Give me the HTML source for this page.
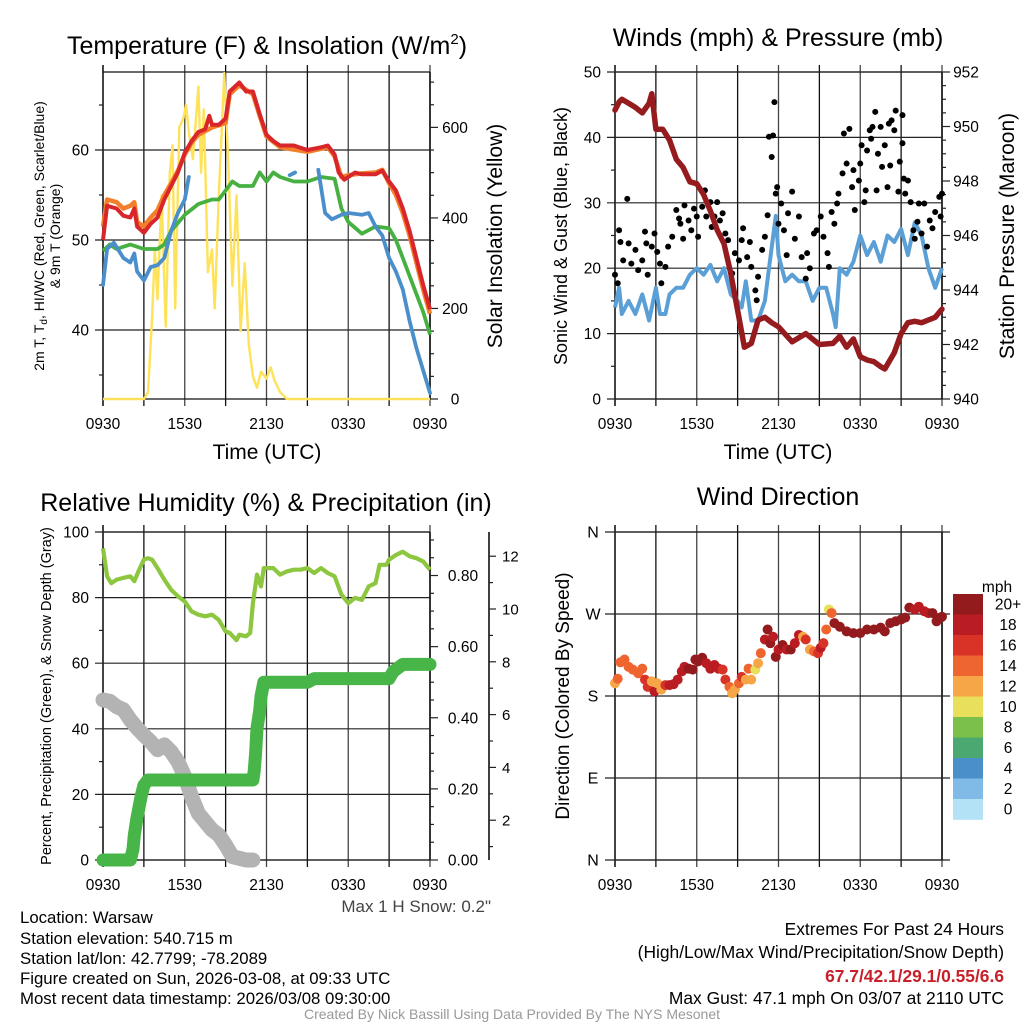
<!DOCTYPE html>
<html><head><meta charset="utf-8"><style>
html,body{margin:0;padding:0;background:#fff;}
svg{display:block;font-family:"Liberation Sans",sans-serif;}
</style></head><body>
<svg id="fig" xmlns="http://www.w3.org/2000/svg" width="1024" height="1024" viewBox="0 0 1024 1024">
<rect width="1024" height="1024" fill="#fff"/>
<g id="p1"></g>
<g id="p2"></g>
<g id="p3"></g>
<g id="p4"></g>
<!-- titles -->
<text x="267" y="54" font-size="25" text-anchor="middle">Temperature (F) &amp; Insolation (W/m<tspan font-size="15" dy="-10">2</tspan><tspan dy="10">)</tspan></text>
<text x="778" y="46" font-size="25" text-anchor="middle">Winds (mph) &amp; Pressure (mb)</text>
<text x="266" y="511" font-size="25" text-anchor="middle">Relative Humidity (%) &amp; Precipitation (in)</text>
<text x="778" y="505" font-size="25" text-anchor="middle">Wind Direction</text>
<!-- axis titles -->
<text x="267" y="459" font-size="21" text-anchor="middle">Time (UTC)</text>
<text x="778" y="459" font-size="21" text-anchor="middle">Time (UTC)</text>
<text transform="translate(44,236) rotate(-90)" font-size="14" text-anchor="middle">2m T, T<tspan font-size="10" dy="3">d</tspan><tspan dy="-3">, HI/WC (Red, Green, Scarlet/Blue)</tspan></text>
<text transform="translate(60,236) rotate(-90)" font-size="14" text-anchor="middle">&amp; 9m T (Orange)</text>
<text transform="translate(502,236) rotate(-90)" font-size="21" text-anchor="middle">Solar Insolation (Yellow)</text>
<text transform="translate(567,236) rotate(-90)" font-size="18" text-anchor="middle">Sonic Wind &amp; Gust (Blue, Black)</text>
<text transform="translate(1014,236) rotate(-90)" font-size="21" text-anchor="middle">Station Pressure (Maroon)</text>
<text transform="translate(51,696) rotate(-90)" font-size="14.5" text-anchor="middle">Percent, Precipitation (Green), &amp; Snow Depth (Gray)</text>
<text transform="translate(569,696) rotate(-90)" font-size="19" text-anchor="middle">Direction (Colored By Speed)</text>
<text x="997" y="592" font-size="15.5" text-anchor="middle">mph</text>
<!-- footer -->
<text x="491" y="912" font-size="17" text-anchor="end" fill="#444">Max 1 H Snow: 0.2"</text>
<g font-size="16.8">
<text x="20" y="923">Location: Warsaw</text>
<text x="20" y="944">Station elevation: 540.715 m</text>
<text x="20" y="964">Station lat/lon: 42.7799; -78.2089</text>
<text x="20" y="984">Figure created on Sun, 2026-03-08, at 09:33 UTC</text>
<text x="20" y="1004">Most recent data timestamp: 2026/03/08 09:30:00</text>
</g>
<g font-size="17.4" text-anchor="end">
<text x="1004" y="935">Extremes For Past 24 Hours</text>
<text x="1004" y="958">(High/Low/Max Wind/Precipitation/Snow Depth)</text>
<text x="1004" y="982" font-weight="bold" fill="#c8202a">67.7/42.1/29.1/0.55/6.6</text>
<text x="1004" y="1004">Max Gust: 47.1 mph On 03/07 at 2110 UTC</text>
</g>
<text x="512" y="1019" font-size="14" text-anchor="middle" fill="#999">Created By Nick Bassill Using Data Provided By The NYS Mesonet</text>
</svg>
<script>
// ---------- DATA ----------
const timeTickLabels = ['0930','1530','2130','0330','0930'];
const redH = [0,0.3,1,1.5,2,2.3,2.5,3,3.5,4,4.5,5,5.5,6,6.5,7,7.5,7.8,8,8.5,9,9.3,10,10.5,11,11.5,12,12.5,13,14,15,16,16.5,17,17.3,17.7,18,18.5,19,20,20.5,21,21.5,22,22.5,23,23.5,24];
const redT = [50,53.8,53.5,52.7,52.5,53.5,51.5,50.8,51.8,52.5,54.5,56,57.5,59.7,61,62,62.3,63.8,62.8,62.8,63.5,66.5,67.5,66.5,66.5,64,61.7,61,60.5,60.5,60,60.3,60.5,59.5,57.5,56.7,57,57.5,57.3,57.3,57.7,56.5,55.5,53.5,51,48,45,42.3];
const orangeH = [0,0.3,1,1.5,2,2.3,2.5,3,3.5,4,4.5,5,5.5,6,6.5,7,8,9,9.3,10,11,11.5,12,13,15,16.5,17,17.5,18,19,20,20.5,21,21.5,22,22.5,23,23.5,24];
const orangeT = [51.5,54.5,54.2,53.5,53.8,54.2,52,51.5,52.5,53.3,55,56.3,57.7,59.5,60.8,61.7,62.5,63,66.2,67.2,66.2,63.8,61.5,60.3,59.8,60.3,59.3,57,57.2,57.4,57.5,57.8,56.3,55,53,50.5,47.5,44.5,41.8];
const greenH = [0,0.5,1,2,3,4,4.5,5,6,7,8,8.5,9,9.5,10,11,11.5,12,12.5,13,14,15,16,17,17.5,18,19,20,21,21.5,22,22.5,23,23.5,24];
const greenT = [48.8,49.5,49,49.5,49,49,49.5,51,52.8,54,54.5,54.5,55.5,56.5,56,56,57.5,56.5,57.5,57,56.5,56.5,57,56.8,53.5,52,50.7,51.5,51.3,50,48,46,44,42,39.5];
const blueH = [0,0.3,0.8,1.5,2,2.3,2.5,3,3.5,4,4.5,5,5.5,6,6.3,null,13.7,14.1,null,15.8,16.3,16.8,17.5,18,19,19.5,20,20.5,21,21.5,22,22.5,23,23.5,24];
const blueT = [45,49,49.7,48,47.5,48.5,46.5,45.5,47,47.2,48,51,53,54.5,57,null,57.2,57.5,null,57.8,53,52.3,52.8,53,52.8,53,51.5,50.5,48,46.5,44.5,41,38,35.5,33];
const solarH = [0,3.0,3.3,3.6,3.8,4.0,4.3,4.6,4.9,5.1,5.3,5.6,5.9,6.1,6.3,6.6,7.0,7.2,7.4,7.7,8.0,8.2,8.5,8.9,9.2,9.5,9.8,10.1,10.4,10.7,11.0,11.3,11.6,12.0,12.3,12.6,13.0,13.5,24];
const solarW = [0,0,15,180,330,220,450,160,500,560,200,600,620,650,590,530,690,500,640,280,330,200,450,720,520,250,450,150,300,120,50,25,60,45,70,40,15,0,0];
const solarTicks = [0,200,400,600];
const tempTicks = [40,50,60];
const windH = [0,0.3,0.5,1,1.5,2,2.5,3,3.3,3.7,4,4.5,5,5.5,6,6.5,7,7.5,8,8.5,9,9.3,9.6,10,10.5,11,11.3,11.8,12,12.5,13,13.5,14,14.5,15,15.5,16,16.2,16.5,17,17.5,18,18.5,19,19.5,20,20.5,21,21.5,22,22.5,23,23.5,24];
const windV = [14,17,13,15,13,16,12,17,13,13,16,17,17,19,20,19,20.5,18,20,16,15,14,18,12,12,15,20,28,22,18,19,18,18,15,17,17,13,11,20,19,21,25,22,24,21,25,24,26,22,27,25,20,17,20];
const gustH = [0,0.2,0.3,0.4,0.6,0.9,1,1.2,1.5,1.7,2,2.2,2.3,2.4,2.7,2.9,3.1,3.3,3.4,3.7,3.9,4.2,4.5,4.7,4.8,5,5.1,5.4,5.6,5.8,6,6.1,6.4,6.6,6.7,7,7.1,7.3,7.5,7.7,7.9,8.1,8.3,8.6,8.8,9.1,9.3,9.4,9.7,9.9,10,10.3,10.4,10.5,10.8,11,11.2,11.3,11.5,11.6,11.7,11.8,11.9,12,12.2,12.4,12.6,12.7,13,13.2,13.5,13.7,14,14.1,14.3,14.6,14.8,15.1,15.3,15.6,15.7,15.9,16.1,16.3,16.4,16.7,16.8,17,17.2,17.4,17.5,17.6,17.9,18,18.1,18.3,18.4,18.5,18.7,18.8,18.9,19.1,19.2,19.3,19.5,19.6,19.8,20,20.1,20.2,20.3,20.5,20.6,20.8,20.9,21.1,21.1,21.2,21.3,21.5,21.7,21.9,22,22.2,22.3,22.5,22.7,22.9,23.1,23.3,23.5,23.8,23.9,24];
const gustV = [19,17.7,25.8,24,21.2,30.6,23.8,20.7,22.8,19.7,21.2,25.6,23.8,19,23.3,25.3,22.5,20.7,17.7,20.2,23.3,24.8,28.9,27.6,26.8,24.5,29.6,27.3,25.8,29.1,27.9,24.8,29.4,31.9,27.9,30.1,26.3,27.9,30.1,27.3,28.4,25.3,24.3,19.2,22.3,21.2,24.3,26.1,21.7,24,20.2,16.6,15.1,18.7,22.8,24.8,28.1,40.1,37,40.3,45.4,31.4,32.4,26.8,29.9,25.8,22,28.4,31.7,24.5,27.9,21.7,18.4,22.3,20,25.3,25.8,27.9,24.8,22.3,20.2,28.6,26.8,29.9,31.4,34.5,40.6,36,41.3,32.4,35,28.9,33.4,36,38.8,30.1,31.9,38,41.1,39.8,41.6,43.9,31.9,37.5,41.6,35.5,38.8,32.4,42.1,35.7,42.6,41.1,44.1,31.7,36.3,43.4,39.1,33.7,31.4,33.4,30.1,25.8,24.5,27.1,29.9,25.3,29.9,23.3,27.3,26.1,28.6,30.9,27.9,31.4];
const presH = [0,0.3,0.5,1,1.5,2,2.5,2.7,3,3.5,4,4.5,5,5.5,6,6.5,7,7.5,8,8.5,9,9.5,10,10.5,11,11.5,12,13,14,15,16,16.5,17,17.5,18,18.5,19,19.5,19.8,20.5,21,21.5,22,22.5,23,23.5,24];
const presP = [950.6,950.9,951.0,950.85,950.7,950.5,950.85,951.2,949.9,949.9,949.5,948.8,948.5,947.97,947.9,947.5,946.9,946.2,945.7,944.6,943.26,941.9,942.04,942.9,943.0,942.8,942.65,942.1,942.4,942.0,942.04,942.3,941.9,942.2,941.55,941.43,941.37,941.19,941.1,941.7,942.4,942.8,942.85,942.8,942.9,943.0,943.3];
const windTicks = [0,10,20,30,40,50];
const presTicks = [940,942,944,946,948,950,952];
const rhH = [0,0.3,0.6,1,1.5,2,2.3,2.6,3,3.3,3.6,4,4.5,5,5.5,6,6.5,7,7.5,8,8.5,9,9.3,9.8,10,10.5,10.8,11,11.3,11.6,11.8,12.5,13,13.5,14,14.5,15,15.5,16,16.5,17,17.5,18,18.5,19,19.5,20,20.3,20.8,21,21.5,22,22.5,23,23.5,24];
const rhV = [95,86.5,84.4,85.5,86,86.5,85,88,91.6,92,91.6,89,85.5,82.4,80.4,78.8,75.8,74.8,74.3,74.8,73.2,69.7,69.2,67,68.7,68.2,69.2,78.3,87,83.4,89,89,87,88,88.5,88.5,89,87.5,89,87.5,86.5,80.9,78.3,79.9,79.3,83.4,84.4,90,90,91.6,93,94,92.6,92,91,88.5];
const precipH = [0,2,2.2,2.3,2.5,2.8,3,3.3,11,11.1,11.2,11.3,11.5,11.6,11.8,15,15.5,21,21.3,22,24];
const precipV = [0,0,0.03,0.07,0.12,0.18,0.21,0.225,0.225,0.25,0.30,0.37,0.42,0.46,0.50,0.50,0.51,0.51,0.53,0.55,0.55];
const snowH = [0,0.5,1,1.5,2,2.5,3,3.5,4,4.5,5,5.5,6,6.5,7,7.5,8,8.5,9,9.5,10,10.5,11];
const snowV = [6.6,6.55,6.33,6.2,5.78,5.44,5.15,4.88,4.55,4.75,4.47,4.06,3.44,2.61,1.92,1.58,1.24,1.03,0.62,0.14,0.07,0,0];
const rhTicks = [0,20,40,60,80,100];
const precipTicks = [0,0.2,0.4,0.6,0.8];
const precipTickLabels = ['0.00','0.20','0.40','0.60','0.80'];
const snowTicks = [2,4,6,8,10,12];
const dirH = [0,0.2,0.4,0.7,1,1.3,1.7,2,2.2,2.4,2.7,2.9,3.1,3.4,3.7,4,4.3,4.6,4.9,5.1,5.4,5.7,5.9,6.1,6.4,6.7,7,7.3,7.6,7.9,8.1,8.4,8.6,8.8,9.1,9.3,9.6,9.8,10,10.3,10.5,10.7,11,11.2,11.4,11.6,11.8,12,12.3,12.6,12.9,13.2,13.5,13.8,14,14.3,14.6,14.9,15.1,15.3,15.5,15.7,15.9,16.1,16.5,17,17.5,18,18.5,19,19.5,19.8,20.2,20.6,21,21.3,21.6,22,22.3,22.7,23,23.3,23.6,23.9,24];
const dirV = [194,199,217,220,212,209,205,210,198,190,196,185,194,187,192,192,193,198,207,212,210,209,220,218,222,216,210,214,210,209,198,190,183,187,194,201,198,210,198,209,216,227,242,253,238,245,223,231,236,231,231,238,247,245,242,231,229,227,233,238,253,275,271,260,256,251,249,249,253,253,255,251,260,262,264,266,277,275,278,273,271,271,262,266,267];
const dirSpeed = [12,14,15,14,15,14,15,14,17,16,12,18,13,12,17,18,18,18,18,19,20,20,20,20,20,19,19,18,18,17,16,14,12,13,15,17,12,15,12,11,13,15,18,20,20,19,20,19,20,19,20,18,18,13,17,13,15,17,18,16,14,11,14,20,20,20,20,20,20,20,20,20,20,20,20,20,20,19,19,19,19,20,20,20,20];
const dirTickLabels = ['N','E','S','W','N'];
const dirTicks = [0,90,180,270,360];
const legendLabels = ['20+','18','16','14','12','10','8','6','4','2','0'];
const legendColors = ['#931a1d','#b91c22','#d93328','#ef6530','#f7a647','#e8e05a','#7bc04a','#4aa870','#4a8fc8','#7fbbe6','#b3e2f7'];

// ---------- SCALES ----------
const L = 103, R = 430, L2 = 615, R2 = 942;
const pxh = (R - L) / 24;
const xA = h => L + h * pxh;
const xB = h => L2 + h * pxh;
const yT = t => 150 - (t - 60) * 9;
const yS = w => 399 - w * 0.4527;
const yW = v => 399 - v * 6.54;
const yP = p => 399 - (p - 940) * 27.25;
const yR = r => 860 - r * 3.28;
const yPc = p => 860 - p * 355.6;
const ySn = s => 860 - s * 24.24;
const ySA = v => 873 - v * 26.4;
const yD = d => 860 - d * 0.9111;
const speedColor = s => legendColors[Math.max(0, Math.min(10, 10 - Math.floor(s / 2)))];

const NS = 'http://www.w3.org/2000/svg';
function mk(parent, tag, attrs, name) {
  const el = document.createElementNS(NS, tag);
  for (const k in attrs) el.setAttribute(k, attrs[k]);
  
  
  parent.appendChild(el);
  return el;
}
function pathFrom(hs, vs, xf, yf) {
  let d = '', pen = false;
  for (let i = 0; i < hs.length; i++) {
    if (hs[i] === null || vs[i] === null) { pen = false; continue; }
    d += (pen ? 'L' : 'M') + xf(hs[i]).toFixed(1) + ',' + yf(vs[i]).toFixed(1);
    pen = true;
  }
  return d;
}
function frame(g, x0, x1, y0, y1, name) {
  for (let i = 0; i <= 8; i++) {
    const x = x0 + i * (x1 - x0) / 8;
    mk(g, 'line', {x1: x, x2: x, y1: y0 - 7, y2: y1 + 7, stroke: i % 2 ? '#111' : '#444', 'stroke-width': i === 0 ? 2 : 1.3}, name + '-vgrid');
  }
  mk(g, 'line', {x1: x0, x2: x1, y1: y0, y2: y0, stroke: '#111', 'stroke-width': 1.3}, name + '-top-border');
  mk(g, 'line', {x1: x0, x2: x1, y1: y1, y2: y1, stroke: '#111', 'stroke-width': 1.3}, name + '-bottom-border');
  mk(g, 'line', {x1: x1, x2: x1, y1: y0, y2: y1, stroke: '#111', 'stroke-width': 1.6}, name + '-right-border');
  timeTickLabels.forEach((t, i) => {
    const tx = mk(g, 'text', {x: x0 + i * (x1 - x0) / 4, y: y1 + 30, 'font-size': 15.5, 'text-anchor': 'middle'}, name + '-x-tick-label');
    tx.textContent = t;
  });
}
function hline(g, x0, x1, y, name, w) {
  mk(g, 'line', {x1: x0, x2: x1, y1: y, y2: y, stroke: '#222', 'stroke-width': w || 1.2}, name);
}
function label(g, x, y, txt, anchor, name, size) {
  const t = mk(g, 'text', {x: x, y: y + 5.5, 'font-size': size || 15.5, 'text-anchor': anchor}, name);
  t.textContent = txt;
}

// ---------- PANEL 1 ----------
const p1 = document.getElementById('p1');
frame(p1, L, R, 72, 399, 'temp');
tempTicks.forEach(t => { hline(p1, L - 8, R, yT(t), 'temp-gridline'); label(p1, L - 14, yT(t), String(t), 'end', 'temp-tick-label'); });
[35,45,55,65].forEach(t => hline(p1, L - 4, L, yT(t), 'temp-minor-tick'));
for (let w = 0; w <= 700; w += 50) hline(p1, R, R + (w % 200 === 0 ? 8 : 4), yS(w), 'solar-tick');
solarTicks.forEach(w => label(p1, R + 25, yS(w), String(w), 'middle', 'solar-tick-label'));
mk(p1, 'path', {d: pathFrom(solarH, solarW, xA, yS), fill: 'none', stroke: '#fde25a', 'stroke-width': 2.4, 'stroke-linejoin': 'round'}, 'solar-line');
mk(p1, 'path', {d: pathFrom(orangeH, orangeT, xA, yT), fill: 'none', stroke: '#f47f2a', 'stroke-width': 4.5, 'stroke-linejoin': 'round'}, 'temp-9m-line');
mk(p1, 'path', {d: pathFrom(redH, redT, xA, yT), fill: 'none', stroke: '#d8262a', 'stroke-width': 4, 'stroke-linejoin': 'round'}, 'temp-2m-line');
mk(p1, 'path', {d: pathFrom(greenH, greenT, xA, yT), fill: 'none', stroke: '#46b040', 'stroke-width': 3.8, 'stroke-linejoin': 'round'}, 'dewpoint-line');
mk(p1, 'path', {d: pathFrom(blueH, blueT, xA, yT), fill: 'none', stroke: '#4a8fcc', 'stroke-width': 3.8, 'stroke-linejoin': 'round', 'stroke-linecap': 'round'}, 'windchill-line');

// ---------- PANEL 2 ----------
const p2 = document.getElementById('p2');
frame(p2, L2, R2, 72, 399, 'wind');
windTicks.forEach(v => { hline(p2, L2 - 8, R2, yW(v), 'wind-gridline'); label(p2, L2 - 14, yW(v), String(v), 'end', 'wind-tick-label'); });
[5,15,25,35,45].forEach(v => hline(p2, L2 - 4, L2, yW(v), 'wind-minor-tick'));
for (let p = 940; p <= 952.01; p += 0.5) hline(p2, R2, R2 + (Math.abs(p % 2) < 0.01 ? 8 : 4), yP(p), 'pressure-tick');
presTicks.forEach(p => label(p2, R2 + 24, yP(p), String(p), 'middle', 'pressure-tick-label'));
mk(p2, 'path', {d: pathFrom(windH, windV, xB, yW), fill: 'none', stroke: '#5a9fd6', 'stroke-width': 4, 'stroke-linejoin': 'round'}, 'sustained-wind-line');
gustH.forEach((h, i) => {
  mk(p2, 'circle', {cx: xB(h), cy: yW(gustV[i]), r: 3, fill: '#000'}, 'gust-point');
});
mk(p2, 'path', {d: pathFrom(presH, presP, xB, yP), fill: 'none', stroke: '#961b1e', 'stroke-width': 5.5, 'stroke-linejoin': 'round', 'stroke-linecap': 'round'}, 'pressure-line');

// ---------- PANEL 3 ----------
const p3 = document.getElementById('p3');
frame(p3, L, R, 532, 860, 'rh');
rhTicks.forEach(r => { hline(p3, L - 8, R, yR(r), 'rh-gridline'); label(p3, L - 14, yR(r), String(r), 'end', 'rh-tick-label'); });
[10,30,50,70,90].forEach(r => hline(p3, L - 4, L, yR(r), 'rh-minor-tick'));
for (let p = 0; p <= 0.9001; p += 0.05) hline(p3, R, R + (Math.round(p * 100) % 20 === 0 ? 8 : 4), yPc(p), 'precip-tick');
precipTicks.forEach((p, i) => label(p3, R + 33, yPc(p), precipTickLabels[i], 'middle', 'precip-tick-label'));
mk(p3, 'line', {x1: 489, x2: 489, y1: 532, y2: 860, stroke: '#111', 'stroke-width': 1.6}, 'snow-axis-line');
for (let s = 1; s <= 12; s += 1) hline(p3, 489, 489 + (s % 2 === 0 ? 7 : 4), ySA(s), 'snow-tick');
snowTicks.forEach(s => label(p3, 502, ySA(s), String(s), 'start', 'snow-tick-label', 15));
mk(p3, 'path', {d: pathFrom(rhH, rhV, xA, yR), fill: 'none', stroke: '#8dc63f', 'stroke-width': 4.2, 'stroke-linejoin': 'round'}, 'rh-line');
mk(p3, 'path', {d: pathFrom(snowH, snowV, xA, ySn), fill: 'none', stroke: '#b3b3b3', 'stroke-width': 15, 'stroke-linejoin': 'round', 'stroke-linecap': 'round'}, 'snow-depth-line');
mk(p3, 'path', {d: pathFrom(precipH, precipV, xA, yPc), fill: 'none', stroke: '#48b548', 'stroke-width': 13, 'stroke-linejoin': 'round', 'stroke-linecap': 'round'}, 'precip-line');

// ---------- PANEL 4 ----------
const p4 = document.getElementById('p4');
frame(p4, L2, R2, 532, 860, 'dir');
dirTicks.forEach((d, i) => { hline(p4, L2 - 10, R2 + 8, yD(d), 'dir-gridline'); label(p4, L2 - 22, yD(d), dirTickLabels[i], 'middle', 'dir-tick-label', 16); });
dirH.forEach((h, i) => {
  mk(p4, 'circle', {cx: xB(h), cy: yD(dirV[i]), r: 5, fill: speedColor(dirSpeed[i])}, 'direction-point');
});
legendColors.forEach((c, i) => {
  mk(p4, 'rect', {x: 953, y: 594 + i * 20.5, width: 30, height: 20.8, fill: c}, 'legend-swatch');
  label(p4, 1008, 604 + i * 20.5, legendLabels[i], 'middle', 'legend-label', 15.5);
});
</script>
</body></html>
